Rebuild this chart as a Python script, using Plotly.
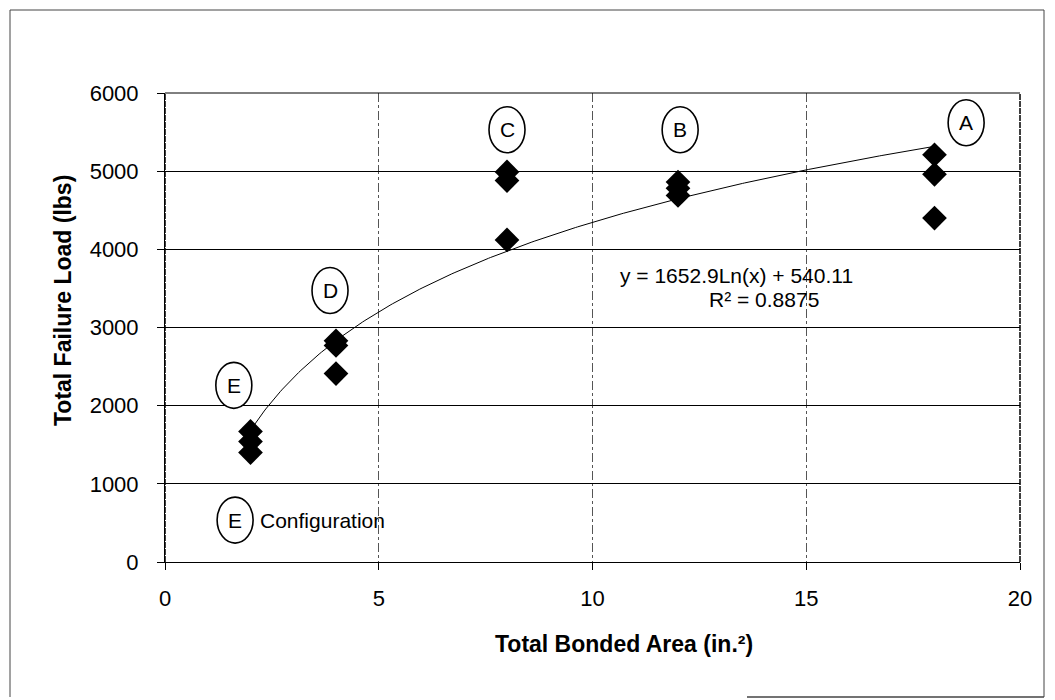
import numpy as np
import plotly.graph_objects as go

# ---- data ----
area_x = [2, 2, 2, 4, 4, 4, 8, 8, 8, 12, 12, 12, 18, 18, 18]
failure_load = [1670, 1540, 1400, 2830, 2770, 2410, 4990, 4880, 4120,
                4860, 4780, 4690, 5210, 4960, 4400]

fit_slope = 1652.9
fit_intercept = 540.11
fit_r2 = 0.8875

config_labels = ["A", "B", "C", "D", "E"]

x_ticks = [0, 5, 10, 15, 20]
y_ticks = [0, 1000, 2000, 3000, 4000, 5000, 6000]

# ---- layout geometry (window pixels; page body has an 8px margin) ----
OFF = 8
WIN_W, WIN_H = 1055, 700
W, H = WIN_W - OFF, WIN_H - OFF
PL, PR, PT, PB = 165, 1020, 93, 562          # plot box in window pixels
L, T = PL - OFF, PT - OFF
R, B = WIN_W - PR, WIN_H - PB
PW, PH = PR - PL, PB - PT

def px(xp):
    return (xp - PL) / PW

def py(yp):
    return (PB - yp) / PH

FONT = "Liberation Sans, Arial, sans-serif"

fig = go.Figure()

# trendline (logarithmic fit as printed on the chart)
xf = np.linspace(min(area_x), max(area_x), 300)
yf = fit_slope * np.log(xf) + fit_intercept
fig.add_trace(go.Scatter(x=xf, y=yf, mode="lines",
                         line=dict(color="black", width=1),
                         hoverinfo="skip", showlegend=False))

fig.add_trace(go.Scatter(x=area_x, y=failure_load, mode="markers",
                         marker=dict(symbol="diamond", size=19, color="black",
                                     line=dict(width=0)),
                         showlegend=False))

# circled configuration labels (data-anchored)
label_pos = {"A": (18.74, 5620), "B": (12.05, 5530), "C": (8.0, 5530),
             "D": (3.86, 3474), "E": (1.61, 2260)}
legend_pos = (1.64, 536)

shapes = []
annotations = []

def circled(letter, x, y):
    shapes.append(dict(type="circle", xref="x", yref="y",
                       xsizemode="pixel", ysizemode="pixel",
                       xanchor=x, yanchor=y, x0=-18, x1=18, y0=-23, y1=23,
                       line=dict(color="black", width=1.6),
                       fillcolor="white", layer="above"))
    annotations.append(dict(x=x, y=y, xref="x", yref="y", text=letter,
                            xanchor="center", yanchor="middle",
                            showarrow=False, font=dict(size=21, color="black",
                                                       family=FONT)))

for lab in config_labels:
    circled(lab, *label_pos[lab])
circled("E", *legend_pos)
annotations.append(dict(x=legend_pos[0], y=legend_pos[1], xref="x", yref="y",
                        xshift=23, xanchor="left", yanchor="middle",
                        text="Configuration", showarrow=False,
                        font=dict(size=21, color="black", family=FONT)))

# equation text
annotations.append(dict(x=13.36, y=3660, xref="x", yref="y",
                        xanchor="center", yanchor="middle",
                        text=f"y = {fit_slope}Ln(x) + {fit_intercept}",
                        showarrow=False,
                        font=dict(size=21, color="black", family=FONT)))
annotations.append(dict(x=14.0, y=3360, xref="x", yref="y",
                        xanchor="center", yanchor="middle",
                        text=f"R\u00b2 = {fit_r2}",
                        showarrow=False,
                        font=dict(size=21, color="black", family=FONT)))

# axis titles
annotations.append(dict(x=px(624), y=py(644), xref="paper", yref="paper",
                        xanchor="center", yanchor="middle",
                        text="<b>Total Bonded Area (in.\u00b2)</b>",
                        showarrow=False,
                        font=dict(size=23, color="black", family=FONT)))
annotations.append(dict(x=px(63), y=py(301), xref="paper", yref="paper",
                        xanchor="center", yanchor="middle",
                        text="<b>Total Failure Load (lbs)</b>", textangle=-90,
                        showarrow=False,
                        font=dict(size=23, color="black", family=FONT)))

# plot frame: dashed-looking left/right borders
for xx in (0, 1):
    shapes.append(dict(type="line", xref="paper", yref="paper",
                       x0=xx, x1=xx, y0=0, y1=1,
                       line=dict(color="black", width=1.5, dash="6px,1px")))
shapes.append(dict(type="line", xref="paper", yref="paper", x0=0, x1=1,
                   y0=1, y1=1, line=dict(color="black", width=1)))

# outer chart border (kept inside the figure area)
bl, br, bt, bb = 10, 1044, 10, 697
shapes.append(dict(type="line", xref="paper", yref="paper",
                   x0=px(bl), x1=px(br), y0=py(bt), y1=py(bt),
                   line=dict(color="#444", width=1)))
shapes.append(dict(type="line", xref="paper", yref="paper",
                   x0=px(bl), x1=px(bl), y0=py(bt), y1=py(bb),
                   line=dict(color="#444", width=1)))
shapes.append(dict(type="line", xref="paper", yref="paper",
                   x0=px(br), x1=px(br), y0=py(bt), y1=py(bb),
                   line=dict(color="#444", width=1)))
shapes.append(dict(type="line", xref="paper", yref="paper",
                   x0=px(747), x1=px(br), y0=py(bb), y1=py(bb),
                   line=dict(color="#444", width=1.5)))

fig.update_layout(
    width=W, height=H,
    margin=dict(l=L, r=R, t=T, b=B, autoexpand=False),
    paper_bgcolor="white", plot_bgcolor="white",
    font=dict(family=FONT, size=22, color="black"),
    shapes=shapes, annotations=annotations,
    xaxis=dict(range=[0, 20], tickvals=x_ticks, ticks="outside", ticklen=7,
               tickcolor="black", showline=True, linecolor="black",
               linewidth=1, showgrid=True, gridcolor="#555",
               griddash="dashdot", gridwidth=1, zeroline=False,
               ticklabelstandoff=10, tickfont=dict(size=22)),
    yaxis=dict(range=[0, 6000], tickvals=y_ticks, ticks="outside", ticklen=7,
               tickcolor="black", showline=True, linecolor="black",
               linewidth=1, showgrid=True, gridcolor="black", gridwidth=1,
               zeroline=False, ticklabelstandoff=14, tickfont=dict(size=22)),
    showlegend=False,
)

fig.write_html("out.html")
